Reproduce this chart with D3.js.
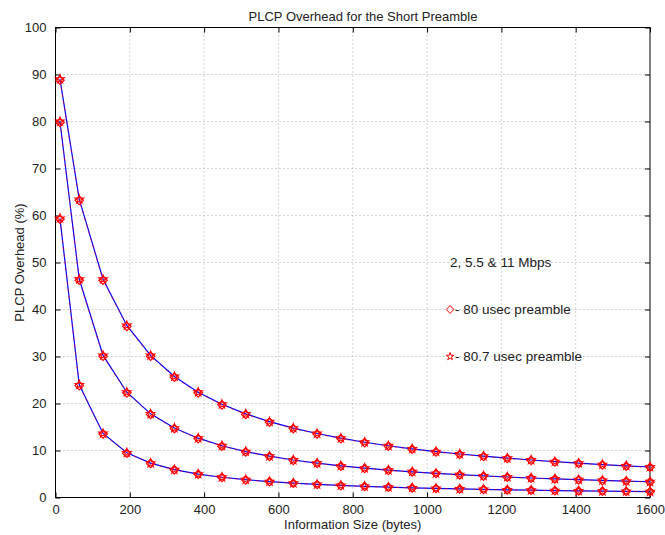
<!DOCTYPE html>
<html>
<head>
<meta charset="utf-8">
<script src="https://cdn.jsdelivr.net/npm/d3@7"></script>
<style>
  html, body { margin: 0; padding: 0; background: #fff; }
  text { font-family: "Liberation Sans", Arial, Helvetica, sans-serif; fill: #222; }
</style>
</head>
<body>
<div id="chart"></div>
<script>
// Information size in bytes (x values)
var infoSize = [12, 64, 128, 192, 256, 320, 384, 448, 512, 576, 640, 704, 768,
                832, 896, 960, 1024, 1088, 1152, 1216, 1280, 1344, 1408, 1472, 1536, 1600];

// 80 usec preamble (diamonds)
var ovh11_80 = [88.8, 63.22, 46.22, 36.42, 30.05, 25.58, 22.27, 19.71, 17.68, 16.03, 14.67, 13.51, 12.53,
                11.68, 10.93, 10.28, 9.70, 9.18, 8.72, 8.30, 7.91, 7.57, 7.25, 6.95, 6.68, 6.43];
var ovh55_80 = [79.8, 46.22, 30.05, 22.27, 17.68, 14.67, 12.53, 10.93, 9.70, 8.72, 7.91, 7.25, 6.68,
                6.20, 5.78, 5.42, 5.10, 4.81, 4.56, 4.33, 4.12, 3.93, 3.76, 3.60, 3.46, 3.32];
var ovh2_80 = [59.2, 23.81, 13.51, 9.43, 7.25, 5.88, 4.95, 4.27, 3.76, 3.36, 3.03, 2.76, 2.54,
               2.35, 2.18, 2.04, 1.92, 1.81, 1.71, 1.62, 1.54, 1.47, 1.40, 1.34, 1.29, 1.23];

// 80.7 usec preamble (stars)
var ovh11_807 = [89.0, 63.42, 46.43, 36.61, 30.23, 25.74, 22.40, 19.84, 17.79, 16.14, 14.77, 13.61, 12.62,
                 11.76, 11.01, 10.36, 9.77, 9.25, 8.79, 8.37, 7.98, 7.63, 7.31, 7.01, 6.74, 6.49];
var ovh55_807 = [80.0, 46.43, 30.23, 22.40, 17.79, 14.77, 12.62, 11.01, 9.77, 8.79, 7.98, 7.31, 6.74,
                 6.25, 5.83, 5.47, 5.14, 4.85, 4.59, 4.36, 4.15, 3.96, 3.79, 3.63, 3.49, 3.35];
var ovh2_807 = [59.4, 23.97, 13.62, 9.51, 7.31, 5.93, 4.99, 4.31, 3.79, 3.39, 3.06, 2.79, 2.56,
                2.37, 2.20, 2.06, 1.93, 1.82, 1.72, 1.63, 1.55, 1.48, 1.41, 1.35, 1.30, 1.24];

var xTicks = [0, 200, 400, 600, 800, 1000, 1200, 1400, 1600];
var yTicks = [0, 10, 20, 30, 40, 50, 60, 70, 80, 90, 100];

var width = 665,
    height = 535,
    margin = {left: 55.5, top: 27.5, right: 15, bottom: 37.5},
    plotW = width - margin.left - margin.right,
    plotH = height - margin.top - margin.bottom,
    tickLen = 5;

var x = d3.scaleLinear().domain([0, 1600]).range([0, plotW]);
var y = d3.scaleLinear().domain([0, 100]).range([plotH, 0]);

var svg = d3.select('#chart').append('svg')
    .attr('width', width)
    .attr('height', height);

var g = svg.append('g')
    .attr('transform', 'translate(' + margin.left + ',' + margin.top + ')');

// Dotted grid
g.selectAll('.vgrid').data(xTicks.slice(1, -1)).enter()
    .append('line')
    .attr('x1', function(d) { return x(d); })
    .attr('x2', function(d) { return x(d); })
    .attr('y1', 0).attr('y2', plotH)
    .attr('stroke', '#aaa').attr('stroke-width', 1)
    .attr('stroke-dasharray', '1,3');
g.selectAll('.hgrid').data(yTicks.slice(1, -1)).enter()
    .append('line')
    .attr('y1', function(d) { return y(d); })
    .attr('y2', function(d) { return y(d); })
    .attr('x1', 0).attr('x2', plotW)
    .attr('stroke', '#aaa').attr('stroke-width', 1)
    .attr('stroke-dasharray', '1,3');

// Axes (ticks inside, MATLAB box)
var fmt = d3.format('d');
var xBottom = d3.axisBottom(x).tickValues(xTicks).tickFormat(fmt).tickSizeInner(-tickLen).tickSizeOuter(0).tickPadding(7);
var xTop = d3.axisTop(x).tickValues(xTicks).tickSizeInner(-tickLen).tickSizeOuter(0).tickFormat('');
var yLeft = d3.axisLeft(y).tickValues(yTicks).tickFormat(fmt).tickSizeInner(-tickLen).tickSizeOuter(0).tickPadding(9);
var yRight = d3.axisRight(y).tickValues(yTicks).tickSizeInner(-tickLen).tickSizeOuter(0).tickFormat('');

function styleAxis(sel) {
    sel.select('.domain').remove();
    sel.selectAll('line').attr('stroke', '#000');
    sel.selectAll('text').attr('font-size', '13px').attr('fill', '#222')
        .attr('font-family', '"Liberation Sans", Arial, sans-serif');
}

g.append('g').attr('transform', 'translate(0,' + plotH + ')').call(xBottom).call(styleAxis);
g.append('g').call(xTop).call(styleAxis);
g.append('g').call(yLeft).call(styleAxis);
g.append('g').attr('transform', 'translate(' + plotW + ',0)').call(yRight).call(styleAxis);

g.append('rect')
    .attr('x', 0).attr('y', 0)
    .attr('width', plotW).attr('height', plotH)
    .attr('fill', 'none').attr('stroke', '#000').attr('stroke-width', 1);

// Marker shapes
var diamondType = {
    draw: function(ctx, size) {
        var r = Math.sqrt(size) / 2;
        ctx.moveTo(0, -r); ctx.lineTo(r, 0); ctx.lineTo(0, r); ctx.lineTo(-r, 0); ctx.closePath();
    }
};
var diamond = d3.symbol().type(diamondType).size(72);
var star = d3.symbol().type(d3.symbolStar).size(22);
var legendDiamond = d3.symbol().type(diamondType).size(60);
var legendStar = d3.symbol().type(d3.symbolStar).size(18);

var line = d3.line()
    .x(function(d) { return x(d[0]); })
    .y(function(d) { return y(d[1]); });

function pairs(vals) {
    return infoSize.map(function(s, i) { return [s, vals[i]]; });
}

var starSeries = [ovh11_807, ovh55_807, ovh2_807];
var diamondSeries = [ovh11_80, ovh55_80, ovh2_80];

// blue solid lines (80.7 usec)
starSeries.forEach(function(vals) {
    g.append('path').datum(pairs(vals))
        .attr('d', line)
        .attr('fill', 'none').attr('stroke', '#0000ff').attr('stroke-width', 1.2);
});
// red dashed lines (80 usec)
diamondSeries.forEach(function(vals) {
    g.append('path').datum(pairs(vals))
        .attr('d', line)
        .attr('fill', 'none').attr('stroke', '#ff0000').attr('stroke-width', 0.8)
        .attr('stroke-opacity', 0.7)
        .attr('stroke-dasharray', '3,4');
});

diamondSeries.forEach(function(vals) {
    g.selectAll(null).data(pairs(vals)).enter()
        .append('path')
        .attr('d', diamond)
        .attr('transform', function(d) { return 'translate(' + x(d[0]) + ',' + y(d[1]) + ')'; })
        .attr('fill', 'none').attr('stroke', '#ff0000').attr('stroke-width', 1.2);
});
starSeries.forEach(function(vals) {
    g.selectAll(null).data(pairs(vals)).enter()
        .append('path')
        .attr('d', star)
        .attr('transform', function(d) { return 'translate(' + x(d[0]) + ',' + y(d[1]) + ')'; })
        .attr('fill', 'none').attr('stroke', '#ff0000').attr('stroke-width', 1.1);
});

// In-plot annotations
var noteX = 1062,
    noteFont = '13.5px';
g.append('text')
    .attr('x', x(noteX)).attr('y', y(50))
    .attr('dy', '0.35em')
    .attr('font-size', noteFont)
    .text('2, 5.5 & 11 Mbps');

g.append('path')
    .attr('d', legendDiamond)
    .attr('transform', 'translate(' + x(noteX) + ',' + y(40) + ')')
    .attr('fill', 'none').attr('stroke', '#ff0000').attr('stroke-width', 1);
g.append('text')
    .attr('x', x(noteX) + 5).attr('y', y(40))
    .attr('dy', '0.35em')
    .attr('font-size', noteFont)
    .text('- 80 usec preamble');

g.append('path')
    .attr('d', legendStar)
    .attr('transform', 'translate(' + x(noteX) + ',' + y(30) + ')')
    .attr('fill', 'none').attr('stroke', '#ff0000').attr('stroke-width', 1);
g.append('text')
    .attr('x', x(noteX) + 5).attr('y', y(30))
    .attr('dy', '0.35em')
    .attr('font-size', noteFont)
    .text('- 80.7 usec preamble');

// Titles
svg.append('text')
    .attr('x', 363).attr('y', 21)
    .attr('text-anchor', 'middle')
    .attr('font-size', '13px')
    .text('PLCP Overhead for the Short Preamble');

svg.append('text')
    .attr('x', margin.left + plotW / 2).attr('y', 529)
    .attr('text-anchor', 'middle')
    .attr('font-size', '13px')
    .text('Information Size (bytes)');

svg.append('text')
    .attr('transform', 'translate(24,' + (margin.top + plotH / 2) + ') rotate(-90)')
    .attr('text-anchor', 'middle')
    .attr('font-size', '13px')
    .text('PLCP Overhead (%)');
</script>
</body>
</html>
